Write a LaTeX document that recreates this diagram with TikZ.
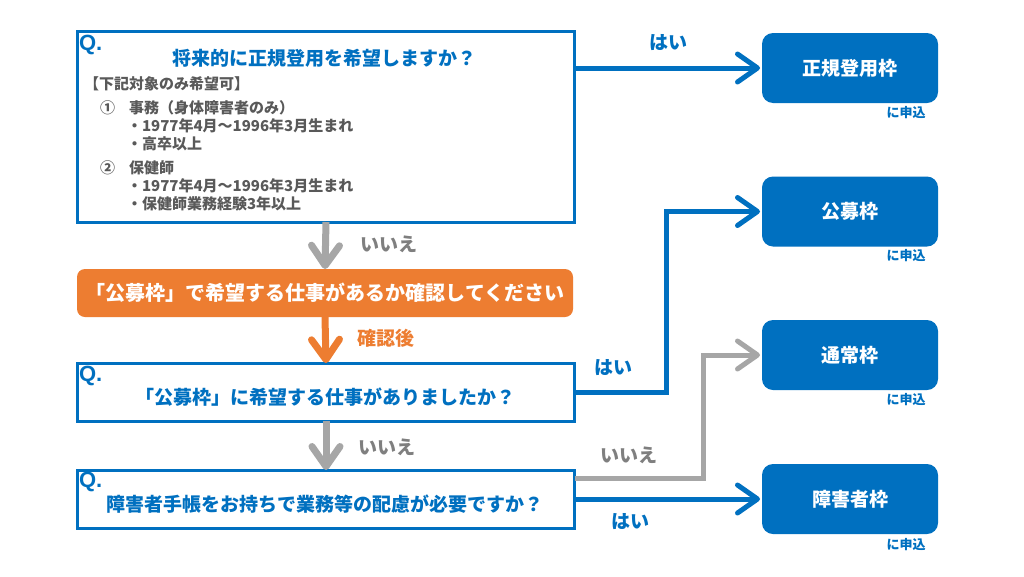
\documentclass[tikz,border=0pt]{standalone}
\usepackage{fontspec}
\setmainfont{Noto Sans CJK JP}
\newfontfamily\qfont{Liberation Sans}
\usetikzlibrary{arrows.meta,calc}
\definecolor{qblue}{HTML}{0070C0}
\definecolor{qorange}{HTML}{ED7D31}
\definecolor{qgray}{HTML}{A6A6A6}
\definecolor{qgraytxt}{HTML}{7F7F7F}
\definecolor{qdark}{HTML}{595959}
\newcommand{\fsz}[1]{\fontsize{#1}{#1}\selectfont}
\begin{document}
\begin{tikzpicture}[x=1pt,y=-1pt,
  every node/.style={inner sep=0pt,outer sep=0pt},
  qbox/.style={draw=qblue,line width=3pt,fill=white},
  qmark/.style={text=qblue,font=\qfont\bfseries\fsz{22pt},anchor=west},
  qtitle/.style={text=qblue,font=\bfseries\fsz{19pt}},
  listtxt/.style={text=qdark,font=\bfseries\fsz{15pt},anchor=west},
  obox/.style={fill=qorange,rounded corners=8pt,text=white,font=\bfseries\fsz{20pt}},
  rbox/.style={fill=qblue,rounded corners=11pt,minimum width=176pt,minimum height=70pt,text=white,font=\bfseries\fsz{19pt}},
  sublab/.style={text=qblue,font=\bfseries\fsz{13pt}},
  yeslab/.style={text=qblue,font=\bfseries\fsz{19pt}},
  nolab/.style={text=qgraytxt,font=\bfseries\fsz{19pt}},
  oklab/.style={text=qorange,font=\bfseries\fsz{19pt}},
  barr/.style={draw=qblue,line width=5pt,line join=miter,shorten >=2pt,
    -{Straight Barb[length=20pt,width=28pt,line cap=round,line join=round]}},
  garr/.style={draw=qgray,line width=5pt,line join=miter,shorten >=2pt,
    -{Straight Barb[length=20pt,width=28pt,line cap=round,line join=round]}},
  gdarr/.style={draw=qgray,line width=7pt,
    -{Straight Barb[length=20pt,width=28pt,line cap=round,line join=round]}},
  odarr/.style={draw=qorange,line width=7pt,
    -{Straight Barb[length=20pt,width=28pt,line cap=round,line join=round]}}
]
\useasboundingbox (0,0) rectangle (1024,576);
\fill[white] (0,0) rectangle (1024,576);

% Question 1
\node[qbox,minimum width=497pt,minimum height=191pt] (q1) at (326,126.5) {};
\node[qmark] (q1q) at (79,45) {Q.};
\node[qtitle] (q1t) at (324,58) {将来的に正規登用を希望しますか？};
\node[listtxt] (l0) at (84,84) {【下記対象のみ希望可】};
\node[listtxt] (l1n) at (100,108) {①};
\node[listtxt] (l1) at (129,108) {事務（身体障害者のみ）};
\node[listtxt] (l1a) at (127,126) {・1977年4月～1996年3月生まれ};
\node[listtxt] (l1b) at (127,144) {・高卒以上};
\node[listtxt] (l2n) at (100,168) {②};
\node[listtxt] (l2) at (129,168) {保健師};
\node[listtxt] (l2a) at (127,186) {・1977年4月～1996年3月生まれ};
\node[listtxt] (l2b) at (127,204) {・保健師業務経験3年以上};

% Orange step
\node[obox,minimum width=496pt,minimum height=48pt] (ob) at (325,293) {「公募枠」で希望する仕事があるか確認してください};

% Question 2
\node[qbox,minimum width=497pt,minimum height=58pt] (q2) at (326,392) {};
\node[qmark] (q2q) at (79,376) {Q.};
\node[qtitle] (q2t) at (325,397) {「公募枠」に希望する仕事がありましたか？};

% Question 3
\node[qbox,minimum width=497pt,minimum height=58pt] (q3) at (326,499) {};
\node[qmark] (q3q) at (79,482) {Q.};
\node[qtitle] (q3t) at (325,504) {障害者手帳をお持ちで業務等の配慮が必要ですか？};

% Result boxes
\node[rbox] (b1) at (850,68) {正規登用枠};
\node[rbox] (b2) at (850,211.5) {公募枠};
\node[rbox] (b3) at (850,355) {通常枠};
\node[rbox] (b4) at (850,499) {障害者枠};
\node[sublab] (s1) at (906,113) {に申込};
\node[sublab] (s2) at (906,256) {に申込};
\node[sublab] (s3) at (906,400) {に申込};
\node[sublab] (s4) at (906,545) {に申込};

% Connectors
\draw[barr] (q1.east |- b1.west) -- (b1.west);
\draw[barr] (q2.east) -- ++(92,0) |- (b2.west);
\draw[garr] ([yshift=21pt]q3.east) -- ++(129,0) |- (b3.west);
\draw[barr] (q3.east) -- (b4.west);
\draw[gdarr] (q1.south) -- (ob.north);
\draw[odarr] (ob.south) -- (q2.north);
\draw[gdarr] (q2.south) -- (q3.north);

% Labels
\node[yeslab] (y1) at (668,43) {はい};
\node[nolab] (n1) at (389,244) {いいえ};
\node[oklab] (k1) at (386,338) {確認後};
\node[yeslab] (y2) at (613,368) {はい};
\node[nolab] (n2) at (387,447) {いいえ};
\node[nolab] (n3) at (629,455) {いいえ};
\node[yeslab] (y3) at (630,522) {はい};
\end{tikzpicture}
\end{document}
